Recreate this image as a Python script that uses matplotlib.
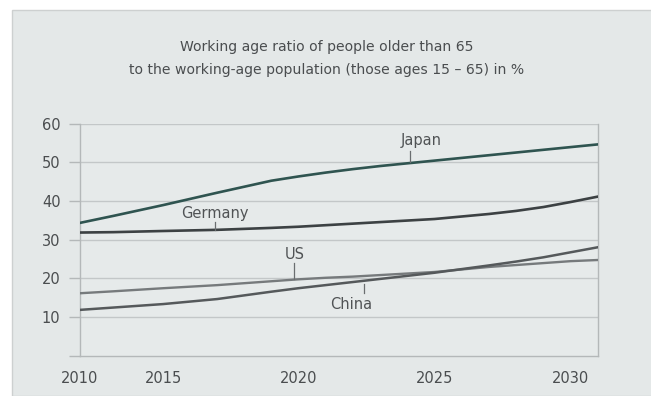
import numpy as np
import matplotlib
matplotlib.use("Agg")
import matplotlib.pyplot as plt
from matplotlib.patches import Rectangle

# values (in %)
years = [2010, 2012, 2015, 2017, 2019, 2020, 2021, 2022, 2023, 2025, 2027, 2028, 2029, 2030, 2031]
japan = [34.3, 36.1, 38.9, 42.1, 45.2, 46.3, 47.3, 48.2, 49.0, 50.4, 51.8, 52.5, 53.2, 53.9, 54.6]
germany = [31.8, 31.9, 32.2, 32.5, 33.0, 33.3, 33.7, 34.1, 34.5, 35.3, 36.6, 37.4, 38.4, 39.7, 41.1]
us = [16.1, 16.6, 17.4, 18.2, 19.2, 19.7, 20.1, 20.4, 20.8, 21.6, 22.9, 23.4, 23.9, 24.4, 24.7]
china = [11.8, 12.4, 13.3, 14.6, 16.5, 17.4, 18.2, 19.0, 19.8, 21.4, 23.3, 24.3, 25.4, 26.7, 28.0]

# the original x axis is not evenly spaced: 2010-2015 is squeezed
tick_years = [2010, 2015, 2020, 2025, 2030, 2035]
tick_pos = [0, 83, 218, 354, 490, 626]

def fwd(x):
    return np.interp(x, tick_years, tick_pos)

def inv(p):
    return np.interp(p, tick_pos, tick_years)

title = "Working age ratio of people older than 65\nto the working-age population (those ages 15 \u2013 65) in %"
labels = ["Japan", "Germany", "US", "China"]
label_xy = [(2024.5, 55.6), (2016.9, 36.7), (2019.85, 26.1), (2021.95, 13.1)]
leader_x = [2024.1, 2016.9, 2019.85, 2022.4]
leader_y = [(50.0, 52.8), (32.4, 34.6), (19.9, 23.8), (16.2, 18.6)]

W, H = 651, 396
fig = plt.figure(figsize=(W / 100, H / 100), dpi=100)
fig.patch.set_facecolor("white")

# grey panel behind everything
fig.patches.append(Rectangle((12 / W, 0), 1, 1 - 10 / H, transform=fig.transFigure,
                             facecolor="#e4e8e8", edgecolor="#cdd0d0", linewidth=1.0, zorder=-1))

ax = fig.add_axes([80 / W, 1 - 355.5 / H, (598 - 80) / W, (355.5 - 123.5) / H])
ax.set_facecolor("#e6eaea")
ax.set_xscale("function", functions=(fwd, inv))
ax.set_xlim(2010, 2031)
ax.set_ylim(0, 60)

grid_c = "#c3c7c8"
for v in range(10, 70, 10):
    ax.axhline(v, color=grid_c, linewidth=1.0, zorder=1)

ax.spines["top"].set_visible(False)
for side in ["left", "right", "bottom"]:
    ax.spines[side].set_color("#b4b8b9")
    ax.spines[side].set_linewidth(1.0)

ax.set_yticks(range(0, 70, 10))
ax.set_yticklabels([""] + [str(v) for v in range(10, 70, 10)])
ax.set_xticks([2010, 2015, 2020, 2025, 2030])
ax.set_xticklabels(["2010", "2015", "2020", "2025", "2030"])
ax.tick_params(axis="y", length=8, width=1.0, color="#b4b8b9", pad=6,
               labelsize=10.5, labelcolor="#4a4d4f")
ax.tick_params(axis="x", length=0, pad=11, labelsize=10.5, labelcolor="#4a4d4f")

ax.plot(years, japan, color="#2f5450", linewidth=1.9, zorder=3)
ax.plot(years, germany, color="#3c4143", linewidth=1.9, zorder=3)
ax.plot(years, us, color="#767a7c", linewidth=1.7, zorder=3)
ax.plot(years, china, color="#55595b", linewidth=1.8, zorder=3)

for name, (tx, ty), lx, (y0, y1) in zip(labels, label_xy, leader_x, leader_y):
    ax.text(tx, ty, name, ha="center", va="center", fontsize=10.5, color="#505355", zorder=4)
    ax.plot([lx, lx], [y0, y1], color="#6a6e70", linewidth=0.9, zorder=4)

fig.text(327 / W, 1 - 58.5 / H, title, ha="center", va="center", fontsize=10.1,
         color="#4a4d4f", linespacing=1.75)

fig.savefig("out.png", dpi=100)
